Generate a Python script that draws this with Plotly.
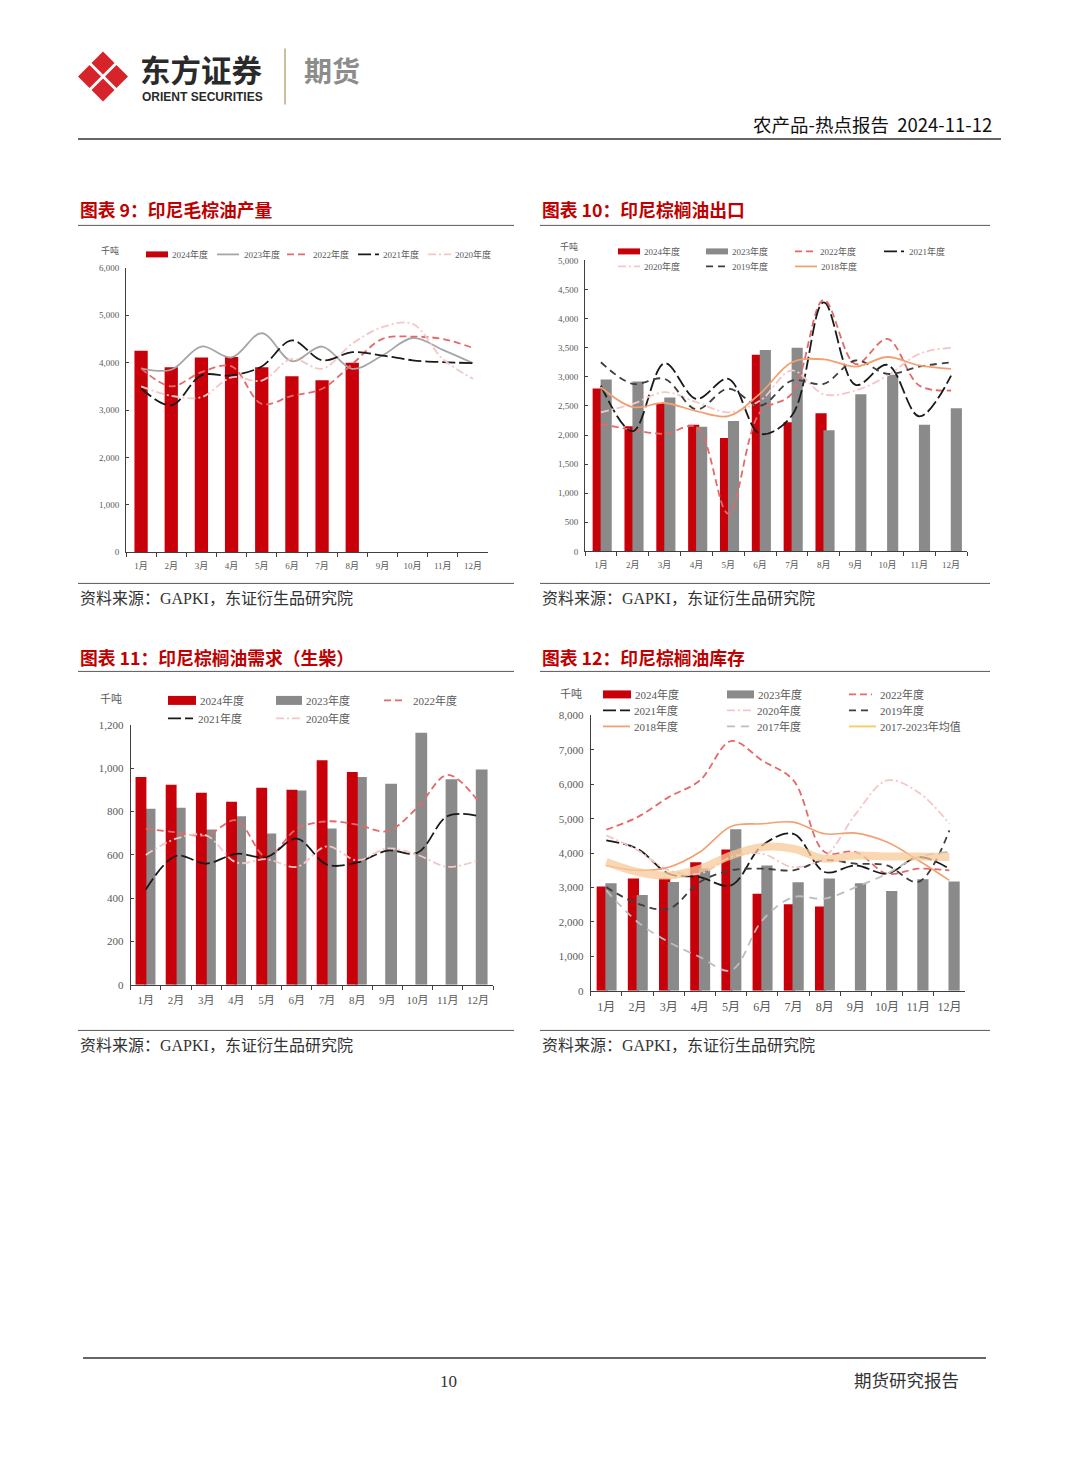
import plotly.graph_objects as go

W, H = 1080, 1466
# the photograph squeezes the page slightly in y; compensate so final positions match
SY, OY = 0.9918, 5.6


def X(p):
    return p / W


def Y(p):
    return 1 - ((p - OY) / SY) / H


months = ["1月", "2月", "3月", "4月", "5月", "6月", "7月", "8月", "9月", "10月", "11月", "12月"]
months8 = months[:8]

# ---------------- Chart 9: 印尼毛棕油产量 ----------------
prod_2024 = [4250, 3900, 4110, 4120, 3900, 3710, 3630, 4000]
prod_2023 = [3880, 3850, 4340, 4110, 4620, 4030, 4340, 3870, 4150, 4520, 4270, 3990]
prod_2022 = [3880, 3500, 3800, 3920, 3130, 3300, 3450, 3970, 4500, 4550, 4500, 4310]
prod_2021 = [3460, 3100, 3730, 3730, 3920, 4470, 4050, 4220, 4150, 4050, 4010, 3990]
prod_2020 = [3500, 3300, 3270, 3690, 3620, 4080, 3870, 4400, 4750, 4820, 4080, 3660]

# ---------------- Chart 10: 印尼棕榈油出口 ----------------
exp_2024 = [2800, 2150, 2550, 2175, 1950, 3380, 2220, 2375]
exp_2023 = [2955, 2920, 2645, 2140, 2240, 3460, 3500, 2080, 2700, 3035, 2175, 2460]
exp_2022 = [2190, 2090, 2020, 2135, 650, 2390, 2710, 4320, 3220, 3650, 2850, 2765]
exp_2021 = [2850, 2065, 3235, 2620, 2965, 2020, 2335, 4280, 2860, 3205, 2320, 3020]
exp_2020 = [2390, 2535, 2735, 2565, 2390, 2590, 3110, 2700, 2765, 3020, 3395, 3500]
exp_2019 = [3250, 2880, 2965, 2440, 2795, 2505, 2935, 2880, 3280, 3050, 3175, 3250]
exp_2018 = [2820, 2480, 2550, 2410, 2325, 2710, 3250, 3300, 3175, 3340, 3195, 3135]

# ---------------- Chart 11: 印尼棕榈油需求（生柴） ----------------
dem_2024 = [960, 924, 887, 846, 910, 901, 1038, 983]
dem_2023 = [813, 818, 718, 779, 699, 898, 722, 960, 929, 1165, 950, 995]
dem_2022 = [720, 705, 690, 760, 590, 720, 755, 740, 710, 820, 970, 850]
dem_2021 = [440, 595, 560, 605, 590, 675, 555, 565, 620, 610, 780, 780]
dem_2020 = [600, 675, 690, 565, 580, 545, 640, 575, 630, 600, 545, 575]

# ---------------- Chart 12: 印尼棕榈油库存 ----------------
stk_2024 = [3030, 3260, 3260, 3730, 4100, 2820, 2510, 2450]
stk_2023 = [3120, 2780, 3160, 3550, 4690, 3640, 3150, 3260, 3120, 2900, 3240, 3170]
stk_2022 = [4680, 5045, 5625, 6110, 7255, 6690, 6110, 4030, 4030, 3400, 3545, 3495]
stk_2021 = [4370, 4125, 3400, 3300, 3060, 4220, 4560, 3450, 3640, 3400, 3885, 3545]
stk_2020 = [4515, 4080, 3500, 3400, 3885, 3980, 3590, 3885, 5140, 6110, 5770, 4850]
stk_2019 = [3010, 2530, 2380, 3160, 3500, 3545, 3500, 3790, 3690, 3640, 3160, 4660]
stk_2018 = [3640, 3500, 3590, 4030, 4775, 4850, 4900, 4560, 4580, 4320, 3790, 3205]
stk_2017 = [2915, 2000, 1415, 980, 590, 2045, 2720, 2675, 3010, 3400, 3885, 4030]
stk_avg = [3740, 3450, 3350, 3545, 3930, 4175, 4125, 3835, 3930, 3900, 3900, 3885]

RED = "#c8000a"
GRAY_BAR = "#8a8a8a"
C2023_LINE = "#a6a6a6"
C2022 = "#e46a6a"
C2021 = "#1a1a1a"
C2020 = "#f5c6c6"
C2019 = "#3f3f3f"
C2018 = "#f3a071"
C2017 = "#bdbdbd"
CAVG = "#f8c999"
CAVG_LEG = "#f6cf6a"

D2022 = "7px,4px"
D2021 = "13px,4px"
D2020 = "8px,3px,2px,3px"
D2019 = "7px,5px"
D2017 = "8px,6px"

SERIF = "Liberation Serif, Noto Sans CJK SC"
CJK = "Noto Sans CJK SC"
TXT = "#595959"

fig = go.Figure()


def line(x, y, name, color, dash, xa, ya, width=1.8, opacity=1.0):
    fig.add_trace(go.Scatter(
        x=x, y=y, name=name, mode="lines",
        line=dict(color=color, dash=dash, width=width, shape="spline", smoothing=1.0),
        opacity=opacity, xaxis=xa, yaxis=ya, showlegend=False, hoverinfo="skip"))


def bar(x, y, name, color, xa, ya, offset, width):
    fig.add_trace(go.Bar(
        x=x, y=y, name=name, marker=dict(color=color, line=dict(width=0)),
        offset=offset, width=width, xaxis=xa, yaxis=ya, showlegend=False, hoverinfo="skip"))


# chart 9
bar(months8, prod_2024, "2024年度", RED, "x", "y", -0.22, 0.44)
line(months, prod_2023, "2023年度", C2023_LINE, "solid", "x", "y")
line(months, prod_2022, "2022年度", C2022, D2022, "x", "y")
line(months, prod_2021, "2021年度", C2021, D2021, "x", "y")
line(months, prod_2020, "2020年度", C2020, D2020, "x", "y")

# chart 10
bar(months8, exp_2024, "2024年度", RED, "x2", "y2", -0.26, 0.35)
bar(months, exp_2023, "2023年度", GRAY_BAR, "x2", "y2", -0.01, 0.35)
line(months, exp_2022, "2022年度", C2022, D2022, "x2", "y2")
line(months, exp_2021, "2021年度", C2021, D2021, "x2", "y2")
line(months, exp_2020, "2020年度", C2020, D2020, "x2", "y2")
line(months, exp_2019, "2019年度", C2019, D2019, "x2", "y2")
line(months, exp_2018, "2018年度", C2018, "solid", "x2", "y2")

# chart 11 (red drawn over gray)
bar(months, dem_2023, "2023年度", GRAY_BAR, "x3", "y3", -0.07, 0.39)
bar(months8, dem_2024, "2024年度", RED, "x3", "y3", -0.34, 0.36)
line(months, dem_2022, "2022年度", C2022, D2022, "x3", "y3")
line(months, dem_2021, "2021年度", C2021, D2021, "x3", "y3")
line(months, dem_2020, "2020年度", C2020, D2020, "x3", "y3")

# chart 12
bar(months8, stk_2024, "2024年度", RED, "x4", "y4", -0.31, 0.36)
bar(months, stk_2023, "2023年度", GRAY_BAR, "x4", "y4", -0.03, 0.36)
line(months, stk_2022, "2022年度", C2022, D2022, "x4", "y4")
line(months, stk_2021, "2021年度", C2021, D2021, "x4", "y4")
line(months, stk_2020, "2020年度", C2020, D2020, "x4", "y4")
line(months, stk_2019, "2019年度", C2019, D2019, "x4", "y4")
line(months, stk_2018, "2018年度", C2018, "solid", "x4", "y4", width=1.6)
line(months, stk_2017, "2017年度", C2017, D2017, "x4", "y4")
line(months, stk_avg, "2017-2023年均值", CAVG, "solid", "x4", "y4", width=8, opacity=0.75)


def xaxis(dom, anchor, fs):
    return dict(domain=dom, anchor=anchor, type="category", categoryorder="array",
                categoryarray=months, range=[-0.5, 11.5], showline=True, linecolor="#404040",
                linewidth=1, ticks="outside", tickson="boundaries", ticklen=4, tickcolor="#404040",
                tickangle=0, tickfont=dict(family=SERIF, size=fs, color=TXT),
                ticklabelstandoff=5,
                showgrid=False, zeroline=False, fixedrange=True)


def yaxis(dom, anchor, rng, dt, fs):
    return dict(domain=dom, anchor=anchor, range=rng, dtick=dt, tick0=0, tickformat=",d",
                showline=True, linecolor="#404040", linewidth=1, ticks="inside", ticklen=3,
                tickcolor="#404040", tickfont=dict(family=SERIF, size=fs, color=TXT),
                ticklabelstandoff=4, showgrid=False, zeroline=False, fixedrange=True)


fig.update_layout(
    width=W, height=H, margin=dict(l=0, r=0, t=0, b=0, pad=0),
    paper_bgcolor="white", plot_bgcolor="rgba(0,0,0,0)",
    barmode="overlay", showlegend=False,
    xaxis=xaxis([X(126), X(488)], "y", 9),
    yaxis=yaxis([Y(551.7), Y(267.5)], "x", [0, 6000], 1000, 9),
    xaxis2=xaxis([X(585), X(967)], "y2", 9),
    yaxis2=yaxis([Y(551), Y(260)], "x2", [0, 5000], 500, 9),
    xaxis3=xaxis([X(130.7), X(493)], "y3", 11),
    yaxis3=yaxis([Y(984.3), Y(724.7)], "x3", [0, 1200], 200, 11),
    xaxis4=xaxis([X(590.7), X(965)], "y4", 12),
    yaxis4=yaxis([Y(990.3), Y(715)], "x4", [0, 8000], 1000, 11),
)

ann = []
shapes = []


def text(x, y, t, size, color="#222222", family=CJK, anchor="left"):
    ann.append(dict(x=X(x), y=Y(y), xref="paper", yref="paper", text=t, showarrow=False,
                    xanchor=anchor, yanchor="middle", borderpad=0,
                    font=dict(family=family, size=size, color=color)))


# ---------- legends (drawn as swatches + labels) ----------
def leg_bar(x0, x1, y, h, color, label, fs):
    shapes.append(dict(type="rect", xref="paper", yref="paper", x0=X(x0), x1=X(x1),
                       y0=Y(y + h / 2), y1=Y(y - h / 2), fillcolor=color, line=dict(width=0)))
    text(x1 + 3, y, label, fs, TXT, SERIF)


def leg_line(x0, x1, y, color, dash, label, fs, w=1.8, tx=None):
    shapes.append(dict(type="line", xref="paper", yref="paper", x0=X(x0), x1=X(x1),
                       y0=Y(y), y1=Y(y), line=dict(color=color, width=w, dash=dash)))
    text(tx if tx is not None else x1 + 4, y, label, fs, TXT, SERIF)


# chart 9 legend
leg_bar(146, 168, 254, 6, RED, "2024年度", 9)
leg_line(217, 239, 254, C2023_LINE, "solid", "2023年度", 9)
leg_line(287, 308, 254, C2022, D2022, "2022年度", 9, tx=312)
leg_line(358, 379, 254, C2021, D2021, "2021年度", 9, tx=382)
leg_line(428, 451, 254, C2020, D2020, "2020年度", 9, tx=454)

# chart 10 legend
leg_bar(618, 640, 251, 6, RED, "2024年度", 9)
leg_bar(706, 728, 251, 6, GRAY_BAR, "2023年度", 9)
leg_line(795, 815, 251, C2022, D2022, "2022年度", 9, tx=819)
leg_line(884, 904, 251, C2021, D2021, "2021年度", 9, tx=908)
leg_line(618, 640, 266, C2020, D2020, "2020年度", 9, tx=643)
leg_line(706, 727, 266, C2019, D2019, "2019年度", 9, tx=731)
leg_line(795, 817, 266, C2018, "solid", "2018年度", 9, tx=820)

# chart 11 legend
leg_bar(168, 196, 700, 9, RED, "2024年度", 11)
leg_bar(276, 302, 700, 9, GRAY_BAR, "2023年度", 11)
leg_line(384, 405, 700, C2022, D2022, "2022年度", 11, tx=412)
leg_line(168, 193, 718, C2021, D2021, "2021年度", 11, tx=197)
leg_line(276, 302, 718, C2020, D2020, "2020年度", 11, tx=305)

# chart 12 legend
leg_bar(603, 631, 694, 8, RED, "2024年度", 11)
leg_bar(727, 754, 694, 8, GRAY_BAR, "2023年度", 11)
leg_line(849, 872, 694, C2022, D2022, "2022年度", 11, tx=879)
leg_line(603, 630, 710, C2021, D2021, "2021年度", 11, tx=633)
leg_line(727, 754, 710, C2020, D2020, "2020年度", 11, tx=756)
leg_line(849, 872, 710, C2019, D2019, "2019年度", 11, tx=879)
leg_line(603, 630, 726, C2018, "solid", "2018年度", 11, tx=633)
leg_line(727, 752, 726, C2017, D2017, "2017年度", 11, tx=756)
leg_line(849, 876, 726, CAVG_LEG, "solid", "2017-2023年均值", 11, w=2, tx=879)

# header
text(139, 69, "<b>东方证券</b>", 30.5, "#2a2a2a")
text(141, 96.5, "<b>ORIENT SECURITIES</b>", 12, "#2a2a2a", "Liberation Sans, Arial")
text(303, 70, "<b>期货</b>", 28, "#8c8c8c")
text(993, 124, "农产品-热点报告  2024-11-12", 18.5, "#111111", anchor="right")

# titles
TITLE_RED = "#c00000"
text(79, 209, "<b>图表 9：印尼毛棕油产量</b>", 17.8, TITLE_RED)
text(541, 209, "<b>图表 10：印尼棕榈油出口</b>", 17.8, TITLE_RED)
text(79, 657, "<b>图表 11：印尼棕榈油需求（生柴）</b>", 17.8, TITLE_RED)
text(541, 657, "<b>图表 12：印尼棕榈油库存</b>", 17.8, TITLE_RED)

# sources
src = "资料来源：GAPKI，东证衍生品研究院"
text(79, 598, src, 16, "#333333", SERIF)
text(541, 598, src, 16, "#333333", SERIF)
text(79, 1045, src, 16, "#333333", SERIF)
text(541, 1045, src, 16, "#333333", SERIF)

# units
text(110, 250, "千吨", 9, TXT, SERIF, anchor="center")
text(569, 246, "千吨", 9, TXT, SERIF, anchor="center")
text(111, 699, "千吨", 11, TXT, SERIF, anchor="center")
text(571, 694, "千吨", 11, TXT, SERIF, anchor="center")

# footer
text(448, 1381, "10", 17, "#333333", "Liberation Serif", anchor="center")
text(960, 1381, "期货研究报告", 17.5, "#333333", SERIF, anchor="right")


def hline(x0, x1, y, color="#555555", w=1.0):
    shapes.append(dict(type="line", xref="paper", yref="paper", x0=X(x0), x1=X(x1),
                       y0=Y(y), y1=Y(y), line=dict(color=color, width=w)))


hline(78, 1001, 138.5, "#333333", 1.5)
for (a, b) in [(78, 514), (540, 990)]:
    for yy in (225, 583, 671, 1030):
        hline(a, b, yy, "#595959", 1)
hline(83, 986, 1357.5, "#333333", 1.5)

# vertical separator in logo
shapes.append(dict(type="line", xref="paper", yref="paper", x0=X(285), x1=X(285), y0=Y(48), y1=Y(104),
                   line=dict(color="#cbbd9e", width=2)))


# logo: four diamonds
def diamond(cx, cy, r):
    pts = [(cx, cy - r), (cx + r, cy), (cx, cy + r), (cx - r, cy)]
    p = "M " + " L ".join(f"{X(a):.5f},{Y(b):.5f}" for a, b in pts) + " Z"
    shapes.append(dict(type="path", xref="paper", yref="paper", path=p,
                       fillcolor="#d7242b", line=dict(width=0)))


cx, cy = 103, 76
for dx, dy in [(0, -13.5), (13.5, 0), (0, 13.5), (-13.5, 0)]:
    diamond(cx + dx, cy + dy, 11.5)

fig.update_layout(annotations=ann, shapes=shapes)

fig.write_html("out.html",
               config={"displayModeBar": False, "staticPlot": True},
               post_script="document.body.style.margin='0';document.body.style.padding='0';"
                           "document.body.style.overflow='hidden';")
